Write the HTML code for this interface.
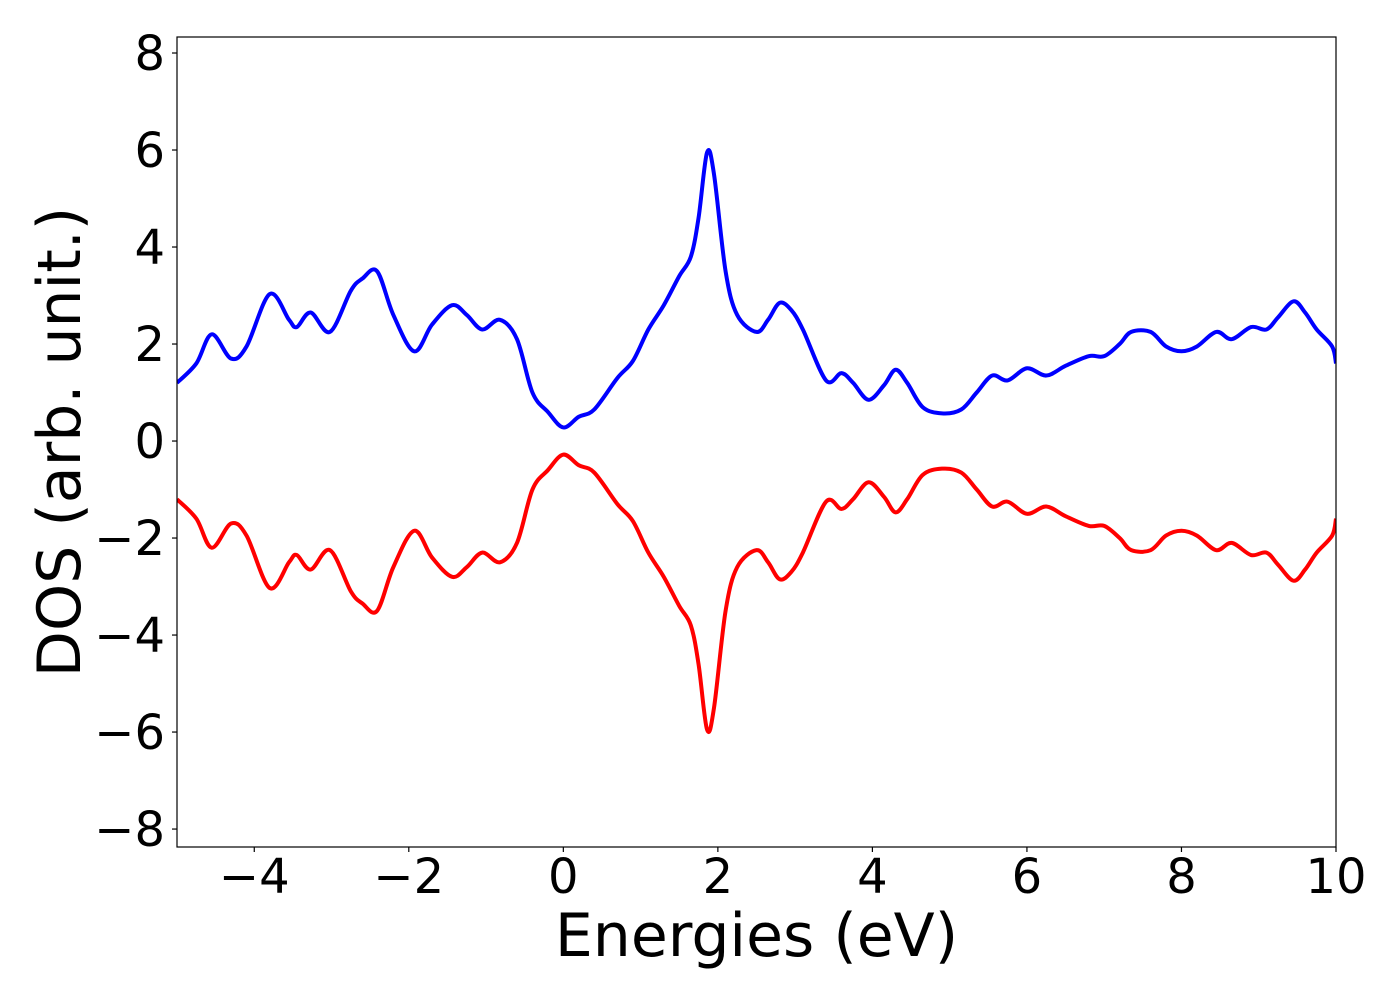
<!DOCTYPE html>
<html><head><meta charset="utf-8"><style>
html,body{margin:0;padding:0;background:#fff;}
svg text{font-family:"DejaVu Sans","Liberation Sans",sans-serif;fill:#000;}
</style></head><body>
<svg id="chart" width="1400" height="1000" xmlns="http://www.w3.org/2000/svg"></svg>
<script>
const energies = [-5,-4.75,-4.55,-4.3,-4.1,-3.8,-3.55,-3.45,-3.27,-3.02,-2.75,-2.6,-2.41,-2.2,-1.93,-1.7,-1.44,-1.25,-1.05,-0.82,-0.6,-0.4,-0.2,0,0.2,0.4,0.7,0.9,1.1,1.3,1.5,1.65,1.75,1.86,1.95,2.1,2.25,2.5,2.65,2.8,2.95,3.1,3.4,3.6,3.75,3.95,4.15,4.3,4.45,4.65,4.9,5.15,5.35,5.55,5.75,6.0,6.25,6.5,6.8,7.0,7.2,7.35,7.6,7.8,8.0,8.2,8.45,8.65,8.9,9.1,9.25,9.45,9.6,9.75,9.95,10];
const dosUp = [1.2,1.6,2.2,1.7,1.95,3.03,2.5,2.35,2.65,2.25,3.1,3.35,3.5,2.6,1.85,2.4,2.8,2.6,2.3,2.5,2.1,1.0,0.6,0.28,0.5,0.65,1.3,1.65,2.3,2.8,3.4,3.8,4.6,5.95,5.5,3.5,2.6,2.25,2.5,2.85,2.7,2.3,1.25,1.4,1.2,0.85,1.15,1.47,1.2,0.7,0.57,0.65,1.0,1.35,1.25,1.5,1.35,1.55,1.75,1.75,2.0,2.25,2.25,1.95,1.85,1.95,2.25,2.1,2.35,2.3,2.55,2.88,2.65,2.3,1.95,1.6];
const dosDown = dosUp.map(v=>-v);
const xTicks = [-4,-2,0,2,4,6,8,10];
const yTicks = [-8,-6,-4,-2,0,2,4,6,8];

const L=177,R=1336,T=37,B=847;
const xmin=-5,xmax=10,ymin=-8.37,ymax=8.33;
const sx=v=>L+(v-xmin)/(xmax-xmin)*(R-L);
const sy=v=>B-(v-ymin)/(ymax-ymin)*(B-T);
const svg=document.getElementById('chart');
const NS='http://www.w3.org/2000/svg';
function mk(tag,attrs){const e=document.createElementNS(NS,tag);for(const k in attrs)e.setAttribute(k,attrs[k]);svg.appendChild(e);return e;}
function smooth(xs,ys){
  const p=xs.map((x,i)=>[sx(x),sy(ys[i])]);
  let d='M'+p[0][0]+','+p[0][1];
  for(let i=0;i<p.length-1;i++){
    const p0=p[i-1]||p[i],p1=p[i],p2=p[i+1],p3=p[i+2]||p[i+1];
    const c1=[p1[0]+(p2[0]-p0[0])/6,p1[1]+(p2[1]-p0[1])/6];
    const c2=[p2[0]-(p3[0]-p1[0])/6,p2[1]-(p3[1]-p1[1])/6];
    d+='C'+c1+' '+c2+' '+p2;
  }
  return d;
}
const cp=mk('clipPath',{id:'clip'});
const cr=document.createElementNS(NS,'rect');cr.setAttribute('x',L);cr.setAttribute('y',T);cr.setAttribute('width',R-L);cr.setAttribute('height',B-T);cp.appendChild(cr);
const up=mk('path',{d:smooth(energies,dosUp),fill:'none',stroke:'#0000ff','stroke-width':4,'clip-path':'url(#clip)'});


const dn=mk('path',{d:smooth(energies,dosDown),fill:'none',stroke:'#ff0000','stroke-width':4,'clip-path':'url(#clip)'});


const frame=mk('rect',{x:L,y:T,width:R-L,height:B-T,fill:'none',stroke:'#000','stroke-width':1.2});


xTicks.forEach(v=>{
  const t=mk('line',{x1:sx(v),x2:sx(v),y1:B,y2:B+5,stroke:'#000','stroke-width':1.2});
  
  
  const lab=mk('text',{x:sx(v),y:B+46,'text-anchor':'middle','font-size':'48'});
  lab.textContent=(v<0?'\u2212':'')+Math.abs(v);
  
  
});
yTicks.forEach(v=>{
  const t=mk('line',{x1:L-5,x2:L,y1:sy(v),y2:sy(v),stroke:'#000','stroke-width':1.2});
  
  
  const lab=mk('text',{x:L-12,y:sy(v)+17,'text-anchor':'end','font-size':'48'});
  lab.textContent=(v<0?'\u2212':'')+Math.abs(v);
  
  
});
const xl=mk('text',{x:(L+R)/2,y:956,'text-anchor':'middle','font-size':'60'});
xl.textContent='Energies (eV)';


const yl=mk('text',{x:0,y:0,'text-anchor':'middle','font-size':'60',transform:'translate(80,'+((T+B)/2)+') rotate(-90)'});
yl.textContent='DOS (arb. unit.)';


</script>
</body></html>
